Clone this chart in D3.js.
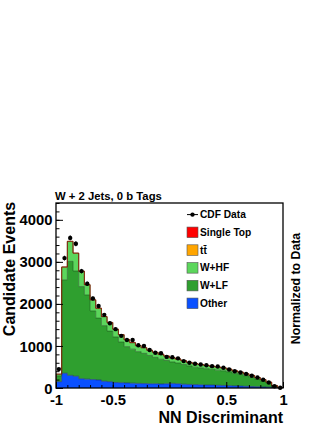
<!DOCTYPE html>
<html><head><meta charset="utf-8">
<script src="https://cdn.jsdelivr.net/npm/d3@7/dist/d3.min.js"></script>
<style>
html,body{margin:0;padding:0;background:#fff;}
svg{display:block;font-family:"Liberation Sans",Arial,Helvetica,sans-serif;font-weight:bold;}
</style></head>
<body>
<svg id="c" width="332" height="430"></svg>
<script>
// ---- data ----
const binLow = [-1.00,-0.95,-0.90,-0.85,-0.80,-0.75,-0.70,-0.65,-0.60,-0.55,
  -0.50,-0.45,-0.40,-0.35,-0.30,-0.25,-0.20,-0.15,-0.10,-0.05,
  0.00,0.05,0.10,0.15,0.20,0.25,0.30,0.35,0.40,0.45,
  0.50,0.55,0.60,0.65,0.70,0.75,0.80,0.85,0.90,0.95];
const binWidth = 0.05;
const cdfData = [450,3090,3570,3430,2780,2480,2130,1950,1740,1540,
  1400,1240,1140,1140,1015,1000,905,840,825,740,
  730,705,640,600,575,560,540,520,510,480,
  440,400,370,335,290,250,195,130,40,5];
const other = [150,350,300,280,220,210,200,190,160,150,
  130,125,120,115,110,105,100,100,95,100,
  110,100,90,85,80,75,70,70,65,60,
  55,50,45,40,35,30,25,20,10,2];
const wlf = [138,2222,2712,2502,2192,2002,1632,1472,1323,1203,
  1083,968,864,809,754,719,674,629,589,554,
  509,494,469,440,415,405,390,375,360,350,
  330,300,281,251,221,182,142,98,39,6];
const whf = [40,300,470,420,360,240,260,230,210,200,
  180,170,160,150,140,130,120,115,110,100,
  95,90,85,80,80,75,75,70,70,65,
  60,55,50,45,40,35,30,20,10,2];
const ttbar = [1,6,6,6,6,6,6,6,5,5,
  5,5,5,5,5,5,5,5,5,5,
  5,5,5,4,4,4,4,4,4,4,
  4,4,3,3,3,2,2,1,1,0];
const singleTop = [1,2,2,2,2,2,2,2,2,2,
  2,2,1,1,1,1,1,1,1,1,
  1,1,1,1,1,1,1,1,1,1,
  1,1,1,1,1,1,1,1,0,0];
const xTicks = [-1,-0.5,0,0.5,1];
const xTickLabels = ["-1","-0.5","0","0.5","1"];
const yTicks = [0,1000,2000,3000,4000];
const legendLabels = ["CDF Data","Single Top","t\u0074\u0304","W+HF","W+LF","Other"];
const seriesNames = ["Other","W+LF","W+HF","ttbar","SingleTop"];
const seriesColors = {Other:"#0a50ff","W+LF":"#2f9f2f","W+HF":"#5cd65c",ttbar:"#ffa500",SingleTop:"#ff0000"};
const seriesLines = {Other:"#1a2a80","W+LF":"#1f5f1f","W+HF":"#4a6a4a",ttbar:"#8a5a00",SingleTop:"#800000"};

// ---- chart ----
const svg = d3.select("#c");
const L=56,R=283,T=203,B=388;
const x = d3.scaleLinear([-1,1],[L,R]);
const y = d3.scaleLinear([0,4400],[B,T]);

const rows = binLow.map((lo,i)=>({lo, hi:lo+binWidth, Other:other[i],"W+LF":wlf[i],"W+HF":whf[i],ttbar:ttbar[i],SingleTop:singleTop[i]}));
const stack = d3.stack().keys(seriesNames)(rows);

const area = d3.area().x(d=>x(d.x)).y0(d=>y(d.y0)).y1(d=>y(d.y1));
const line = d3.line().x(d=>x(d.x)).y(d=>y(d.y1));
svg.append("clipPath").attr("id","pc").append("rect").attr("x",L).attr("y",T).attr("width",R-L).attr("height",B-T);
const g = svg.append("g").attr("clip-path","url(#pc)");
stack.forEach(layer=>{
  const pts=[];
  layer.forEach(d=>{pts.push({x:d.data.lo,y0:d[0],y1:d[1]});pts.push({x:d.data.hi,y0:d[0],y1:d[1]});});
  g.append("path").attr("d",area(pts)).attr("fill",seriesColors[layer.key]);
});
stack.forEach(layer=>{
  const pts=[{x:layer[0].data.lo,y1:0}];
  layer.forEach(d=>{pts.push({x:d.data.lo,y1:d[1]});pts.push({x:d.data.hi,y1:d[1]});});
  pts.push({x:layer[layer.length-1].data.hi,y1:0});
  g.append("path").attr("d",line(pts)).attr("fill","none").attr("stroke",seriesLines[layer.key]).attr("stroke-width",0.8).attr("stroke-opacity",0.8);
});

// data points
const dp = svg.append("g");
binLow.forEach((lo,i)=>{
  const cx = x(lo+binWidth/2), v=cdfData[i], e=Math.sqrt(v);
  if(v<=0) return;
  dp.append("line").attr("x1",cx).attr("x2",cx).attr("y1",y(v+e)).attr("y2",y(Math.max(0,v-e))).attr("stroke","#000").attr("stroke-width",1);
  dp.append("circle").attr("cx",cx).attr("cy",y(v)).attr("r",2.2).attr("fill","#000");
});

// axes
const ax = svg.append("g").attr("transform",`translate(0,${B})`);
ax.call(d3.axisBottom(x).tickValues(d3.range(-1,1.0001,0.1)).tickSize(-3).tickFormat("")).call(a=>a.select(".domain").remove());
const axM = svg.append("g").attr("transform",`translate(0,${B})`)
  .call(d3.axisBottom(x).tickValues(xTicks).tickSize(-6).tickPadding(0).tickFormat((d,i)=>xTickLabels[i]));
axM.select(".domain").remove();
axM.selectAll("text").attr("y",17).attr("dy",0).style("font-size","14.8px").style("font-weight","bold").style("font-family","'Liberation Sans',Arial,sans-serif").attr("fill","#000");

const ay = svg.append("g").attr("transform",`translate(${L},0)`);
ay.call(d3.axisLeft(y).tickValues(d3.range(0,4401,200)).tickSize(-3.5).tickFormat("")).call(a=>a.select(".domain").remove());
const ayM = svg.append("g").attr("transform",`translate(${L},0)`)
  .call(d3.axisLeft(y).tickValues(yTicks).tickSize(-7).tickPadding(3.5).tickFormat(d=>String(d)));
ayM.select(".domain").remove();
ayM.selectAll("text").attr("dy","0.34em").style("font-size","14.8px").style("font-weight","bold").style("font-family","'Liberation Sans',Arial,sans-serif").attr("fill","#000");
svg.selectAll(".tick line").attr("stroke","#000");

// frame
svg.append("rect").attr("x",L).attr("y",T).attr("width",R-L).attr("height",B-T).attr("fill","none").attr("stroke","#000").attr("stroke-width",1.3);

// titles
svg.append("text").attr("x",55).attr("y",200).style("font-size","11.3px").text("W + 2 Jets, 0 b Tags");
svg.append("text").attr("transform","translate(15,269) rotate(-90)").attr("text-anchor","middle").style("font-size","16px").text("Candidate Events");
svg.append("text").attr("x",283).attr("y",423).attr("text-anchor","end").style("font-size","16px").text("NN Discriminant");
svg.append("text").attr("transform","translate(299.5,288.5) rotate(-90)").attr("text-anchor","middle").style("font-size","12.3px").text("Normalized to Data");

// legend
const lg = svg.append("g");
const legKeys = [null,"SingleTop","ttbar","W+HF","W+LF","Other"];
legendLabels.forEach((lab,i)=>{
  const cy = 214.6 + 17.75*i;
  if(i===0){
    lg.append("line").attr("x1",187).attr("x2",198).attr("y1",cy).attr("y2",cy).attr("stroke","#000").attr("stroke-width",1);
    lg.append("circle").attr("cx",192.5).attr("cy",cy).attr("r",2.2).attr("fill","#000");
  } else {
    lg.append("rect").attr("x",187).attr("y",cy-5.3).attr("width",11).attr("height",10.6).attr("fill",seriesColors[legKeys[i]]).attr("stroke","#555").attr("stroke-width",0.6);
  }
  lg.append("text").attr("x",200).attr("y",cy+3.6).style("font-size","10.2px").text(lab);
});
</script>
</body></html>
